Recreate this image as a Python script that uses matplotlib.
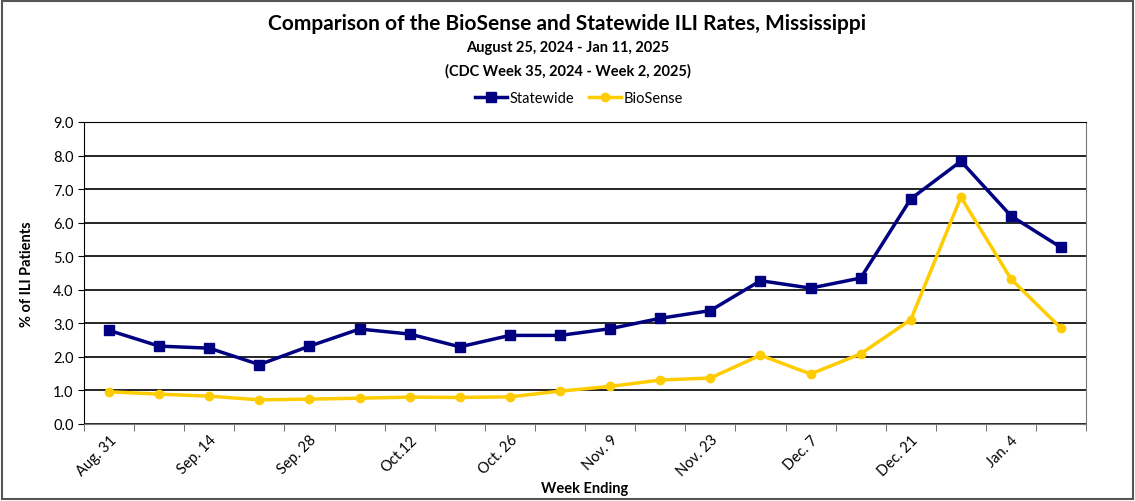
import numpy as np
import matplotlib.pyplot as plt
from matplotlib.patches import Rectangle

# ── Data ───────────────────────────────────────────────────────────────────
weeks = ["Aug. 31", "Sep. 7", "Sep. 14", "Sep. 21", "Sep. 28", "Oct. 5",
         "Oct.12", "Oct. 19", "Oct. 26", "Nov. 2", "Nov. 9", "Nov. 16",
         "Nov. 23", "Nov. 30", "Dec. 7", "Dec. 14", "Dec. 21", "Dec. 28",
         "Jan. 4", "Jan. 11"]
statewide = [2.79, 2.32, 2.26, 1.77, 2.32, 2.83, 2.68, 2.30, 2.64, 2.64,
             2.84, 3.15, 3.38, 4.27, 4.05, 4.35, 6.71, 7.83, 6.20, 5.26]
biosense = [0.96, 0.89, 0.83, 0.72, 0.74, 0.77, 0.80, 0.79, 0.81, 0.98,
            1.12, 1.31, 1.37, 2.05, 1.49, 2.09, 3.11, 6.76, 4.32, 2.85]

NAVY = "#000080"
GOLD = "#FFCC00"
plt.rcParams["font.family"] = ["Lato", "DejaVu Sans"]

# ── Plot ───────────────────────────────────────────────────────────────────
fig = plt.figure(figsize=(11.35, 5.02), dpi=100)
ax = fig.add_axes([0.074, 0.1534, 0.883, 0.6016])

x = np.arange(len(weeks))
ax.plot(x, statewide, color=NAVY, lw=2.5, marker="s", ms=7, label="Statewide", zorder=3)
ax.plot(x, biosense, color=GOLD, lw=2.5, marker="o", ms=6, label="BioSense", zorder=3)

ax.set_xlim(-0.5, len(weeks) - 0.5)
ax.set_ylim(0, 9)
ax.set_yticks(np.arange(0, 9.1, 1.0))
ax.set_yticklabels([f"{v:.1f}" for v in np.arange(0, 9.1, 1.0)], fontsize=10.5)
ax.yaxis.grid(True, color="black", lw=1.2)
ax.set_axisbelow(True)

ax.set_xticks(x[::2])
ax.set_xticklabels(weeks[::2], rotation=45, ha="right", rotation_mode="anchor", fontsize=10.5)
ax.tick_params(axis="x", which="major", length=0, pad=6)
ax.set_xticks(np.arange(-0.5, len(weeks)), minor=True)
ax.tick_params(axis="x", which="minor", length=5, color="#555555")
ax.tick_params(axis="y", length=4)

for s in ["left", "top"]:
    ax.spines[s].set_color("black")
ax.spines["right"].set_color("#777777")
ax.spines["bottom"].set_color("#777777")

ax.set_ylabel("% of ILI Patients", fontsize=10.5, fontweight="bold", labelpad=14)
ax.set_xlabel("Week Ending", fontsize=10.5, fontweight="bold", labelpad=2)

fig.text(0.5, 0.952, "Comparison of the BioSense and Statewide ILI Rates, Mississippi",
         ha="center", va="center", fontsize=15, fontweight="bold")
fig.text(0.5, 0.905, "August 25, 2024 - Jan 11, 2025",
         ha="center", va="center", fontsize=10.5, fontweight="bold")
fig.text(0.5, 0.858, "(CDC Week 35, 2024 - Week 2, 2025)",
         ha="center", va="center", fontsize=10.5, fontweight="bold")

fig.legend(loc="center", bbox_to_anchor=(0.51, 0.803), ncol=2, frameon=False,
           fontsize=10.5, handlelength=2.2, handletextpad=0.2, columnspacing=1.0,
           borderaxespad=0)

fig.patches.append(Rectangle((0.002, 0.004), 0.996, 0.992, transform=fig.transFigure,
                             fill=False, edgecolor="#555555", lw=1.5))

plt.savefig("out.png", dpi=100)
